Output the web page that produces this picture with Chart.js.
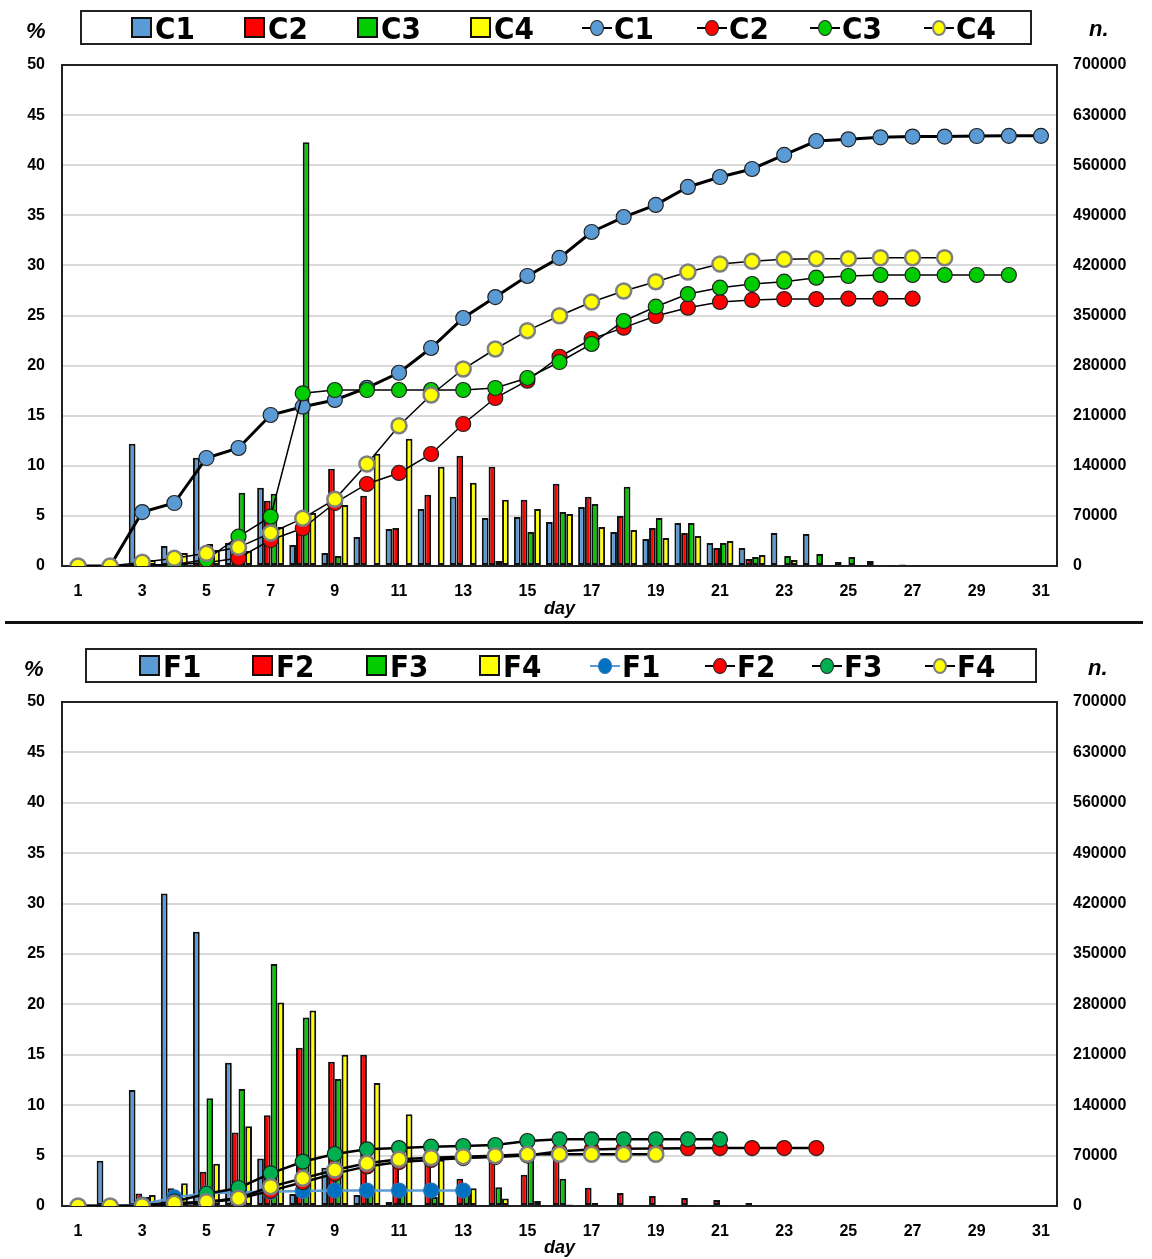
<!DOCTYPE html>
<html lang="en">
<head>
  <meta charset="UTF-8" />
  <title>C / F daily % and cumulative n.</title>
  <style>
    body {
      margin: 0;
      background: #fff;
      font-family: "Liberation Sans", Arial, sans-serif;
    }
    #wrap {
      position: relative;
      width: 1152px;
      height: 1259px;
      overflow: hidden;
    }
    canvas {
      position: absolute;
      left: 0;
    }
    .legend {
      position: absolute;
      box-sizing: border-box;
      border: 2px solid #222;
      height: 35px;
      width: 952px;
      background: #fff;
    }
    .item {
      position: absolute;
      top: 0;
      height: 31px;
      display: flex;
      align-items: center;
      font: bold 31px "Liberation Sans Narrow", "DejaVu Sans Condensed", "Roboto Condensed", sans-serif;
      color: #000;
    }
    .box {
      display: inline-block;
      box-sizing: border-box;
      width: 21px;
      height: 21px;
      border: 2px solid #111;
      margin-right: 3px;
    }
    .ln {
      position: relative;
      display: inline-block;
      width: 30px;
      height: 16px;
      margin-right: 2px;
    }
    .ln::before {
      content: "";
      position: absolute;
      left: 0; right: 0; top: 7px;
      height: 2px;
      background: var(--lc);
    }
    .ln span {
      position: absolute;
      left: 8px; top: 0;
      box-sizing: border-box;
      width: 14px; height: 16px;
      border-radius: 50%;
      background: var(--fc);
      border: var(--bw) solid var(--bc);
    }
    .axlab {
      position: absolute;
      font: italic bold 22px "Liberation Sans", Arial, sans-serif;
    }
    #sep {
      position: absolute;
      left: 5px;
      top: 621px;
      width: 1138px;
      height: 3px;
      background: #111;
    }
  </style>
  <script src="https://cdn.jsdelivr.net/npm/chart.js"></script>
</head>
<body>
<div id="wrap">
  <canvas id="chartC" width="1152" height="620" style="top:0"></canvas>
  <canvas id="chartF" width="1152" height="633" style="top:626px"></canvas>
  <div id="sep"></div>
  <div class="axlab" style="left:26px;top:18px">%</div>
  <div class="axlab" style="left:1089px;top:16px">n.</div>
  <div class="axlab" style="left:24px;top:656px">%</div>
  <div class="axlab" style="left:1088px;top:655px">n.</div>
  <div class="legend" id="legC" style="left:80px;top:10px"></div>
  <div class="legend" id="legF" style="left:85px;top:648px"></div>
</div>

<script>
  const days = ['1','2','3','4','5','6','7','8','9','10','11','12','13','14','15','16',
                '17','18','19','20','21','22','23','24','25','26','27','28','29','30','31'];

  // --- upper panel: daily % (bars) ---
  const pctC1 = [0, 0.1, 12.2, 2.0, 10.8, 2.3, 7.8, 2.1, 1.3, 2.9, 3.7, 5.7, 6.9, 4.8, 4.9, 4.4,
                 5.9, 3.4, 2.7, 4.3, 2.3, 1.8, 3.3, 3.2, 0.4, 0.5, 0.15, 0.1, 0.1, 0.1, 0.1];
  const pctC2 = [0, 0, 0.2, 0.3, 0.5, 1.2, 6.5, 3.7, 9.7, 7.0, 3.8, 7.1, 11.0, 9.9, 6.6, 8.2,
                 6.9, 5.0, 3.8, 3.3, 1.8, 0.7, 0.1, 0.05, 0, 0, 0, 0, 0, 0, 0];
  const pctC3 = [0, 0, 0.3, 0.6, 2.2, 7.3, 7.2, 42.3, 1.0, 0.05, 0.05, 0.05, 0.05, 0.5, 3.4, 5.4,
                 6.2, 7.9, 4.8, 4.3, 2.3, 0.9, 1.0, 1.2, 0.9, 0.1, 0.05, 0, 0, 0, 0];
  const pctC4 = [0, 0, 0.6, 1.3, 1.6, 1.5, 3.9, 5.3, 6.1, 11.2, 12.7, 9.9, 8.3, 6.6, 5.7, 5.2,
                 3.9, 3.6, 2.8, 3.0, 2.5, 1.1, 0.6, 0.1, 0.05, 0.05, 0, 0, 0, 0, 0];

  // --- upper panel: cumulative n. (lines) ---
  const nC1 = [0, 0, 75400, 88000, 150900, 164900, 211000, 222600, 232000, 249000, 270000, 304600,
               346500, 375800, 405200, 430500, 466700, 487600, 504500, 529600, 543500, 554700,
               574300, 593800, 596200, 599000, 600000, 600000, 600800, 601000, 601000];
  const nC2 = [0, 0, 1000, 2000, 4600, 11200, 36300, 52700, 88000, 114600, 130000, 156500,
               198400, 234700, 258900, 292400, 317200, 333000, 349300, 360900, 368900, 371700,
               373000, 373000, 373500, 373500, 373500, null, null, null, null];
  const nC3 = [0, 0, 1500, 2000, 9000, 41000, 68900, 241300, 245900, 245900, 245900, 245900,
               245900, 248700, 262700, 285000, 310200, 342300, 362300, 380000, 388900, 394000,
               397200, 402800, 405200, 406600, 406600, 406600, 406600, 406600, null];
  const nC4 = [0, 0, 5200, 10700, 17700, 26100, 46100, 66600, 93200, 142500, 196000, 238900,
               275200, 303200, 328800, 349700, 368900, 384200, 397200, 410800, 421900, 425700,
               428500, 429400, 429400, 430700, 430700, 430700, null, null, null];

  // --- lower panel: daily % (bars) ---
  const pctF1 = [0, 4.5, 11.5, 31.0, 27.2, 14.2, 4.7, 1.2, 3.8, 1.1, 0.4, 0.1, 0.05, 0.05, 0, 0,
                 0, 0, 0, 0, 0, 0, 0, 0, 0, 0, 0, 0, 0, 0, 0];
  const pctF2 = [0, 0, 1.25, 1.75, 3.4, 7.3, 9.0, 15.7, 14.3, 15.0, 5.0, 4.5, 2.7, 5.2, 3.1, 5.8,
                 1.8, 1.3, 1.0, 0.8, 0.6, 0.3, 0.1, 0.1, 0, 0, 0, 0, 0, 0, 0];
  const pctF3 = [0, 0, 0.9, 1.0, 10.7, 11.6, 24.0, 18.7, 12.6, 1.5, 1.6, 0.9, 1.7, 1.85, 5.0, 2.7,
                 0.3, 0.1, 0.05, 0.05, 0.05, 0, 0, 0, 0, 0, 0, 0, 0, 0, 0];
  const pctF4 = [0, 0, 1.1, 2.25, 4.2, 7.9, 20.2, 19.4, 15.0, 12.2, 9.1, 4.6, 1.75, 0.75, 0.5, 0.15,
                 0.05, 0, 0, 0, 0, 0, 0, 0, 0, 0, 0, 0, 0, 0, 0];

  // --- lower panel: cumulative n. (lines) ---
  const nF1 = [0, 0, 2000, 12000, 17600, 19000, 19900, 20800, 21500, 21500, 21500, 21500, 21500,
               null, null, null, null, null, null, null, null, null, null, null, null, null, null,
               null, null, null, null];
  const nF2 = [0, 0, 500, 2500, 5000, 10000, 21000, 33000, 45000, 55000, 61000, 64000, 66500,
               68000, 70000, 76000, 78500, 79500, 80000, 80200, 80500, 80500, 80500, 80500,
               null, null, null, null, null, null, null];
  const nF3 = [0, 0, 500, 6000, 17000, 25000, 45400, 61500, 72200, 78700, 80500, 82400, 83300,
               84700, 90300, 92600, 92600, 92600, 92600, 92600, 92600, null, null, null, null,
               null, null, null, null, null, null];
  const nF4 = [0, 0, 500, 3700, 6000, 10700, 26800, 38400, 50000, 59300, 64800, 67100, 68500,
               69900, 71800, 71800, 71800, 71800, 71800, null, null, null, null, null, null,
               null, null, null, null, null, null];

  const pctTicks = [0, 5, 10, 15, 20, 25, 30, 35, 40, 45, 50];
  const nTicks = [0, 70000, 140000, 210000, 280000, 350000, 420000, 490000, 560000, 630000, 700000];

  const BLUE = '#5b9bd5', RED = '#ff0000', GREEN = '#00cc00', YELLOW = '#ffff00';
  const tickFont = { family: '"Liberation Sans", Arial, sans-serif', size: 16, weight: 'bold' };

  // frame around the plot area
  const framePlugin = {
    id: 'frame',
    beforeDatasetsDraw(chart) {
      const a = chart.chartArea, ctx = chart.ctx;
      ctx.save();
      ctx.strokeStyle = '#222';
      ctx.lineWidth = 2;
      ctx.strokeRect(a.left, a.top, a.right - a.left, a.bottom - a.top);
      ctx.restore();
    }
  };

  function barSet(label, data, color) {
    return {
      type: 'bar', label, data, yAxisID: 'y', order: 10,
      backgroundColor: color, borderColor: '#111', borderWidth: 2, borderSkipped: false,
      categoryPercentage: 0.84, barPercentage: 1.0
    };
  }

  function lineSet(label, data, o) {
    return {
      type: 'line', label, data, yAxisID: 'y1', order: o.order,
      borderColor: o.line || '#000', borderWidth: o.lw,
      pointBackgroundColor: o.fill, pointBorderColor: o.pb || '#222',
      pointBorderWidth: o.pbw || 1.2, pointRadius: 7.5, pointHoverRadius: 7.5,
      tension: 0, spanGaps: false, fill: false
    };
  }

  function makeChart(id, datasets, padTop, xHeight) {
    new Chart(document.getElementById(id), {
      data: { labels: days, datasets },
      options: {
        responsive: false,
        animation: false,
        events: [],
        layout: { padding: { top: padTop, left: 0, right: 0, bottom: 0 } },
        plugins: { legend: { display: false }, tooltip: { enabled: false } },
        scales: {
          x: {
            offset: true,
            grid: { display: false, drawTicks: false },
            border: { display: false },
            afterFit: s => { s.height = xHeight; },
            ticks: {
              autoSkip: false, maxRotation: 0, padding: 16, color: '#000', font: tickFont,
              callback: (v, i) => (i % 2 === 0 ? days[i] : '')
            },
            title: {
              display: true, text: 'day', color: '#000', padding: { top: 0, bottom: 0 },
              font: { family: '"Liberation Sans", Arial, sans-serif', size: 18, weight: 'bold', style: 'italic' }
            }
          },
          y: {
            position: 'left', min: 0, max: 50,
            afterFit: s => { s.width = 62; },
            afterBuildTicks: s => { s.ticks = pctTicks.map(v => ({ value: v })); },
            grid: { color: '#d9d9d9', lineWidth: 2, drawTicks: false },
            border: { display: false },
            ticks: { padding: 17, color: '#000', font: tickFont }
          },
          y1: {
            position: 'right', min: 0, max: 700000,
            afterFit: s => { s.width = 95; },
            afterBuildTicks: s => { s.ticks = nTicks.map(v => ({ value: v })); },
            grid: { display: false, drawTicks: false },
            border: { display: false },
            ticks: { padding: 16, color: '#000', font: tickFont, callback: v => String(v) }
          }
        }
      },
      plugins: [framePlugin]
    });
  }

  makeChart('chartC', [
    barSet('C1', pctC1, BLUE), barSet('C2', pctC2, RED),
    barSet('C3', pctC3, GREEN), barSet('C4', pctC4, YELLOW),
    lineSet('C1', nC1, { order: 4, lw: 3, fill: BLUE }),
    lineSet('C2', nC2, { order: 3, lw: 1.5, fill: RED }),
    lineSet('C3', nC3, { order: 2, lw: 1.5, fill: GREEN }),
    lineSet('C4', nC4, { order: 1, lw: 1.5, fill: YELLOW, pb: '#7f7f7f', pbw: 2.5 })
  ], 65, 54);

  makeChart('chartF', [
    barSet('F1', pctF1, BLUE), barSet('F2', pctF2, RED),
    barSet('F3', pctF3, GREEN), barSet('F4', pctF4, YELLOW),
    lineSet('F1', nF1, { order: 4, lw: 2.5, line: BLUE, fill: '#0070c0', pb: '#2e75b6' }),
    lineSet('F2', nF2, { order: 3, lw: 2.5, fill: RED }),
    lineSet('F3', nF3, { order: 2, lw: 2.5, fill: '#00b050' }),
    lineSet('F4', nF4, { order: 1, lw: 2.5, fill: YELLOW, pb: '#7f7f7f', pbw: 2.5 })
  ], 76, 53);

  // HTML legends
  function buildLegend(id, names, barColors, lineItems, xs) {
    const el = document.getElementById(id);
    names.forEach((n, i) => {
      const d = document.createElement('div');
      d.className = 'item';
      d.style.left = xs[i] + 'px';
      d.innerHTML = '<span class="box" style="background:' + barColors[i] + '"></span>' + n;
      el.appendChild(d);
    });
    names.forEach((n, i) => {
      const li = lineItems[i];
      const d = document.createElement('div');
      d.className = 'item';
      d.style.left = xs[i + 4] + 'px';
      d.innerHTML = '<span class="ln" style="--lc:' + li.lc + ';--fc:' + li.fc + ';--bc:' + li.bc +
                    ';--bw:' + li.bw + '"><span></span></span>' + n;
      el.appendChild(d);
    });
  }

  buildLegend('legC', ['C1', 'C2', 'C3', 'C4'], [BLUE, RED, GREEN, YELLOW], [
    { lc: '#000', fc: BLUE, bc: '#222', bw: '1px' },
    { lc: '#000', fc: RED, bc: '#222', bw: '1px' },
    { lc: '#000', fc: GREEN, bc: '#222', bw: '1px' },
    { lc: '#000', fc: YELLOW, bc: '#7f7f7f', bw: '2px' }
  ], [49, 162, 275, 388, 500, 615, 728, 842]);

  buildLegend('legF', ['F1', 'F2', 'F3', 'F4'], [BLUE, RED, GREEN, YELLOW], [
    { lc: BLUE, fc: '#0070c0', bc: '#2e75b6', bw: '1px' },
    { lc: '#000', fc: RED, bc: '#222', bw: '1px' },
    { lc: '#000', fc: '#00b050', bc: '#222', bw: '1px' },
    { lc: '#000', fc: YELLOW, bc: '#7f7f7f', bw: '2px' }
  ], [52, 165, 279, 392, 503, 618, 725, 838]);
</script>
</body>
</html>
